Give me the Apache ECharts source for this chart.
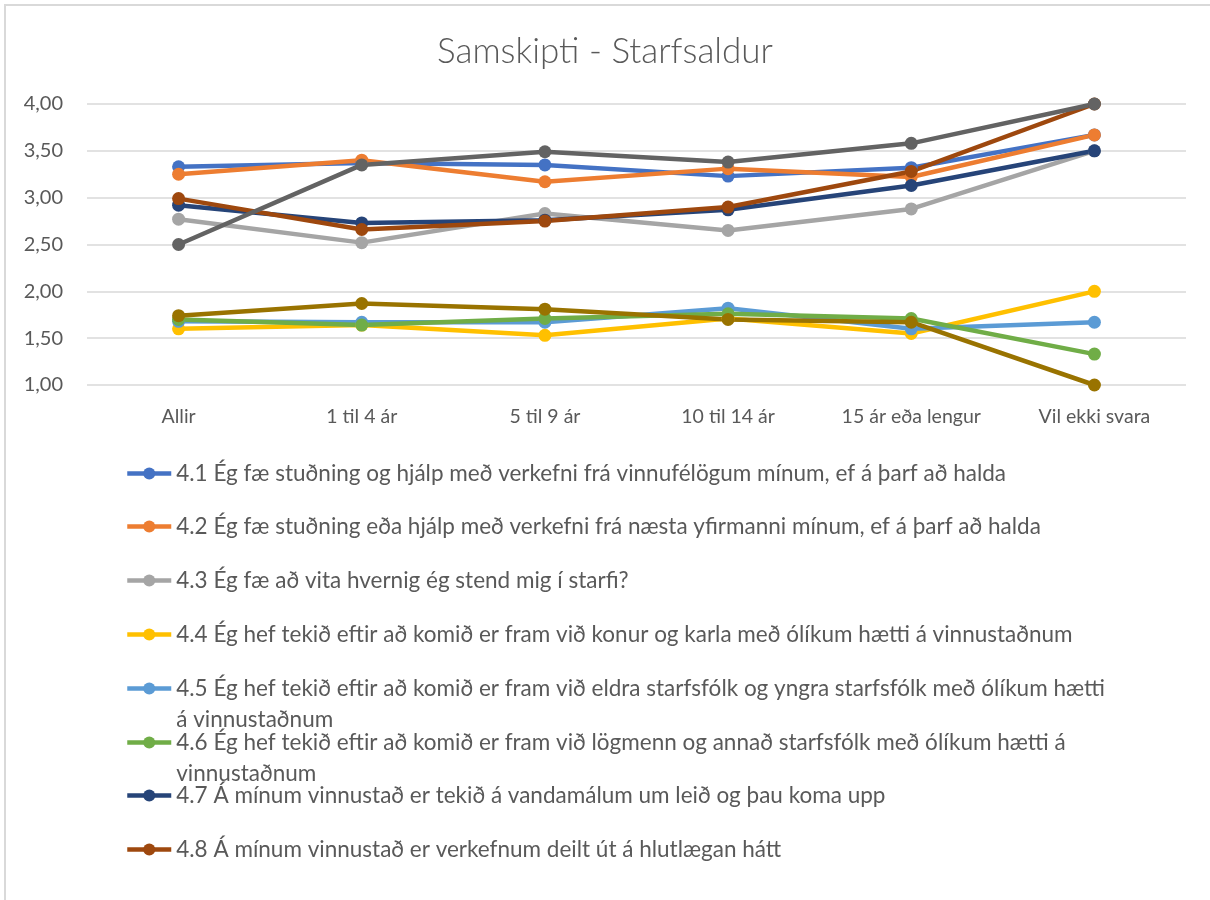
<!DOCTYPE html>
<html>
<head>
<meta charset="utf-8">
<script src="https://cdn.jsdelivr.net/npm/echarts@6/dist/echarts.min.js"></script>
<style>
  html, body { margin: 0; padding: 0; background: #ffffff; overflow: hidden; }
  #frame {
    position: absolute; left: 4px; top: 4px;
    width: 1230px; height: 1000px;
    border: 2px solid #d9d9d9;
  }
  #chart { position: absolute; left: 0; top: 0; width: 1210px; height: 900px; }
</style>
</head>
<body>
<div id="frame"></div>
<div id="chart"></div>
<script>
const categories = ['Allir', '1 til 4 ár', '5 til 9 ár', '10 til 14 ár', '15 ár eða lengur', 'Vil ekki svara']

const seriesNames = [
  '4.1 Ég fæ stuðning og hjálp með verkefni frá vinnufélögum mínum, ef á þarf að halda',
  '4.2 Ég fæ stuðning eða hjálp með verkefni frá næsta yfirmanni mínum, ef á þarf að halda',
  '4.3 Ég fæ að vita hvernig ég stend mig í starfi?',
  '4.4 Ég hef tekið eftir að komið er fram við konur og karla með ólíkum hætti á vinnustaðnum',
  '4.5 Ég hef tekið eftir að komið er fram við eldra starfsfólk og yngra starfsfólk með ólíkum hætti á vinnustaðnum',
  '4.6 Ég hef tekið eftir að komið er fram við lögmenn og annað starfsfólk með ólíkum hætti á vinnustaðnum',
  '4.7 Á mínum vinnustað er tekið á vandamálum um leið og þau koma upp',
  '4.8 Á mínum vinnustað er verkefnum deilt út á hlutlægan hátt',
  '4.9',
  '4.10'
]

const s41 = [3.33, 3.37, 3.35, 3.23, 3.32, 3.67]
const s42 = [3.25, 3.40, 3.17, 3.31, 3.22, 3.67]
const s43 = [2.77, 2.52, 2.83, 2.65, 2.88, 3.50]
const s44 = [1.60, 1.64, 1.53, 1.71, 1.55, 2.00]
const s45 = [1.68, 1.67, 1.67, 1.82, 1.60, 1.67]
const s46 = [1.70, 1.64, 1.71, 1.76, 1.71, 1.33]
const s47 = [2.92, 2.73, 2.76, 2.87, 3.13, 3.50]
const s48 = [2.99, 2.66, 2.75, 2.90, 3.28, 4.00]
const s49 = [2.50, 3.35, 3.49, 3.38, 3.58, 4.00]
const s410 = [1.74, 1.87, 1.81, 1.70, 1.67, 1.00]

const seriesValues = [s41, s42, s43, s44, s45, s46, s47, s48, s49, s410]
const colors = ['#4472C4', '#ED7D31', '#A5A5A5', '#FFC000', '#5B9BD5', '#70AD47', '#264478', '#9E480E', '#636363', '#997300']

const FONT = 'Lato, "Open Sans", sans-serif'
const TEXT = '#595959'

// where the long legend labels wrap (Excel breaks 4.5 and 4.6 onto a second line)
const wrapAfter = { 4: 'hætti ', 5: 'hætti á ' }
const LINE_H = 31

// only the first eight legend rows fit inside the frame
// wrapped labels get an empty first line so the first text line sits level with the icon
const legends = seriesNames.slice(0, 8).map((name, i) => {
  const center = 473 + i * 53.8
  const brk = wrapAfter[i]
  return {
    orient: 'vertical',
    left: 125,
    top: Math.round(center - (brk ? LINE_H * 1.5 : LINE_H / 2)),
    padding: 0,
    data: [name],
    itemWidth: 44,
    itemHeight: 15,
    lineStyle: { width: 4.5 },
    formatter: n => brk ? '\n' + n.replace(brk, brk.trimEnd() + '\n') : n,
    textStyle: {
      fontFamily: FONT,
      fontSize: 22.5,
      color: TEXT,
      lineHeight: LINE_H
    }
  }
})

const chart = echarts.init(document.getElementById('chart'))

const option = {
  animation: false,
  color: colors,
  title: {
    text: 'Samskipti - Starfsaldur',
    left: 'center',
    top: 29,
    textStyle: { fontFamily: FONT, fontSize: 35, fontWeight: 300, color: TEXT }
  },
  legend: legends,
  grid: { left: 87, right: 24, top: 104, bottom: 515, containLabel: false },
  xAxis: {
    type: 'category',
    data: categories,
    boundaryGap: true,
    axisLine: { show: false },
    axisTick: { show: false },
    axisLabel: { margin: 22, fontFamily: FONT, fontSize: 19.5, color: TEXT }
  },
  yAxis: {
    type: 'value',
    min: 1,
    max: 4,
    interval: 0.5,
    axisLine: { show: false },
    axisTick: { show: false },
    axisLabel: {
      margin: 24,
      fontFamily: FONT,
      fontSize: 20,
      color: TEXT,
      formatter: v => v.toFixed(2).replace('.', ',')
    },
    splitLine: { lineStyle: { color: '#d9d9d9', width: 1.5 } }
  },
  series: seriesNames.map((name, i) => ({
    name,
    type: 'line',
    data: seriesValues[i],
    symbol: 'circle',
    symbolSize: 13,
    lineStyle: { width: 4.5, color: colors[i] },
    itemStyle: { color: colors[i] }
  }))
}

chart.setOption(option)
</script>
</body>
</html>
